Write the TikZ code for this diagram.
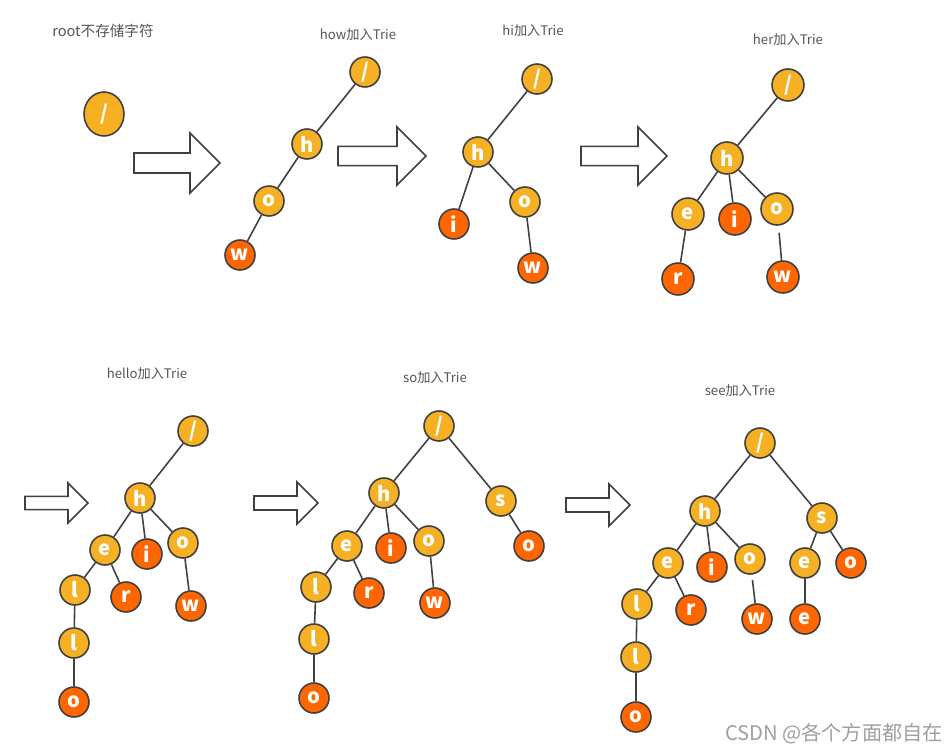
\documentclass[tikz,border=0pt]{standalone}
\usepackage{fontspec}
\setmainfont{Noto Sans CJK SC}
\usetikzlibrary{shapes.geometric}
\usepackage{xcolor}

\definecolor{trieyellow}{RGB}{245,176,36}
\definecolor{trieorange}{RGB}{255,102,0}
\definecolor{linegray}{RGB}{64,64,64}
\definecolor{titlegray}{RGB}{85,85,85}

\tikzset{
  trienode/.style={circle, draw=linegray, line width=0.9pt, fill=trieyellow, text=white,
    minimum size=0.6cm, inner sep=0pt, font=\fontsize{11.5}{11.5}\selectfont\bfseries},
  endnode/.style={trienode, fill=trieorange},
  rootnode/.style={ellipse, draw=linegray, line width=0.9pt, fill=trieyellow, text=white,
    minimum width=0.8cm, minimum height=0.88cm, inner sep=0pt, font=\fontsize{11.5}{11.5}\selectfont\bfseries},
  bignode/.style={minimum size=0.64cm},
  title/.style={text=titlegray, font=\fontsize{7.5}{8}\selectfont},
  watermark/.style={text=gray!75, font=\fontsize{11.5}{12}\selectfont},
  link/.style={draw=linegray, line width=0.9pt},
  arrowbox/.style={draw=linegray, line width=0.9pt, fill=white, line join=miter}
}

% block arrow: left x, middle y, length, half height of the head
\newcommand{\blockarrow}[4]{%
  \draw[arrowbox] (#1,#2-#4/3) -- (#1+#3-#4,#2-#4/3) -- (#1+#3-#4,#2-#4)
    -- (#1+#3,#2) -- (#1+#3-#4,#2+#4) -- (#1+#3-#4,#2+#4/3) -- (#1,#2+#4/3) -- cycle;}

\begin{document}
\begin{tikzpicture}[x=0.02cm, y=-0.02cm]
  \useasboundingbox (0,0) rectangle (951,755);

  % arrows between the steps
  \blockarrow{134}{163}{86}{30}
  \blockarrow{338}{156}{88}{29}
  \blockarrow{581}{156}{86}{29}
  \blockarrow{25}{503}{63}{20}
  \blockarrow{254}{503}{64}{21}
  \blockarrow{566}{505}{64}{21}

  % root only
  \node[title, font=\fontsize{8.3}{9}\selectfont] (t1) at (103,31) {root不存储字符};
  \node[rootnode] (a0) at (104,114) {/};

  % how
  \node[title] (t2) at (358,35) {how加入Trie};
  \node[trienode] (b0) at (365,72) {/};
  \node[trienode] (bh) at (307,144) {h};
  \node[trienode] (bo) at (269,201) {o};
  \node[endnode] (bw) at (240,255) {w};
  \draw[link] (b0) -- (bh);
  \draw[link] (bh) -- (bo);
  \draw[link] (bo) -- (bw);

  % hi
  \node[title] (t3) at (533,31) {hi加入Trie};
  \node[trienode] (c0) at (537,79) {/};
  \node[trienode] (ch) at (478,152) {h};
  \node[endnode] (ci) at (454,224) {i};
  \node[trienode] (co) at (525,202) {o};
  \node[endnode] (cw) at (533,268) {w};
  \draw[link] (c0) -- (ch);
  \draw[link] (ch) -- (ci);
  \draw[link] (ch) -- (co);
  \draw[link] (co) -- (cw);

  % her
  \node[title] (t4) at (788,40) {her加入Trie};
  \node[trienode, bignode] (d0) at (788,85) {/};
  \node[trienode, bignode] (dh) at (727,158) {h};
  \node[trienode, bignode] (de) at (688,214) {e};
  \node[endnode, bignode] (di) at (735,219) {i};
  \node[trienode, bignode] (do) at (777,209) {o};
  \node[endnode, bignode] (dr) at (678,279) {r};
  \node[endnode, bignode] (dw) at (783,277) {w};
  \draw[link] (d0) -- (dh);
  \draw[link] (dh) -- (de);
  \draw[link] (dh) -- (di);
  \draw[link] (dh) -- (do);
  \draw[link] (de) -- (dr);
  \draw[link, shorten <=4pt] (do) -- (dw);

  % hello
  \node[title] (t5) at (147,374) {hello加入Trie};
  \node[trienode] (e0) at (193,431) {/};
  \node[trienode] (eh) at (140,498) {h};
  \node[trienode] (ee) at (105,550) {e};
  \node[endnode] (ei) at (147,554) {i};
  \node[trienode] (eo) at (183,543) {o};
  \node[trienode] (el) at (75,590) {l};
  \node[endnode] (er) at (126,597) {r};
  \node[endnode] (ew) at (191,606) {w};
  \node[trienode] (ell) at (74,643) {l};
  \node[endnode] (elo) at (74,702) {o};
  \draw[link] (e0) -- (eh);
  \draw[link] (eh) -- (ee);
  \draw[link] (eh) -- (ei);
  \draw[link] (eh) -- (eo);
  \draw[link] (ee) -- (el);
  \draw[link] (ee) -- (er);
  \draw[link] (eo) -- (ew);
  \draw[link] (el) -- (ell);
  \draw[link] (ell) -- (elo);

  % so
  \node[title] (t6) at (435,378) {so加入Trie};
  \node[trienode] (f0) at (439,426) {/};
  \node[trienode] (fh) at (384,493) {h};
  \node[trienode] (fs) at (501,501) {s};
  \node[trienode] (fe) at (347,546) {e};
  \node[endnode] (fi) at (391,548) {i};
  \node[trienode] (fo) at (429,541) {o};
  \node[endnode] (fso) at (529,546) {o};
  \node[trienode] (fl) at (316,587) {l};
  \node[endnode] (fr) at (369,593) {r};
  \node[endnode] (fw) at (435,603) {w};
  \node[trienode] (fll) at (314,639) {l};
  \node[endnode] (flo) at (314,698) {o};
  \draw[link] (f0) -- (fh);
  \draw[link] (f0) -- (fs);
  \draw[link] (fh) -- (fe);
  \draw[link] (fh) -- (fi);
  \draw[link] (fh) -- (fo);
  \draw[link] (fs) -- (fso);
  \draw[link] (fe) -- (fl);
  \draw[link] (fe) -- (fr);
  \draw[link] (fo) -- (fw);
  \draw[link] (fl) -- (fll);
  \draw[link] (fll) -- (flo);

  % see
  \node[title] (t7) at (740,391) {see加入Trie};
  \node[trienode] (g0) at (760,443) {/};
  \node[trienode] (gh) at (705,511) {h};
  \node[trienode] (gs) at (822,518) {s};
  \node[trienode] (ge) at (668,563) {e};
  \node[endnode] (gi) at (712,567) {i};
  \node[trienode] (go) at (750,559) {o};
  \node[trienode] (gse) at (805,563) {e};
  \node[endnode] (gso) at (851,563) {o};
  \node[trienode] (gl) at (637,604) {l};
  \node[endnode] (gr) at (691,610) {r};
  \node[endnode] (gw) at (757,619) {w};
  \node[endnode] (gsee) at (805,619) {e};
  \node[trienode] (gll) at (636,657) {l};
  \node[endnode] (glo) at (636,717) {o};
  \draw[link] (g0) -- (gh);
  \draw[link] (g0) -- (gs);
  \draw[link] (gh) -- (ge);
  \draw[link] (gh) -- (gi);
  \draw[link] (gh) -- (go);
  \draw[link] (gs) -- (gse);
  \draw[link] (gs) -- (gso);
  \draw[link] (ge) -- (gl);
  \draw[link] (ge) -- (gr);
  \draw[link, shorten <=3pt] (go) -- (gw);
  \draw[link] (gse) -- (gsee);
  \draw[link] (gl) -- (gll);
  \draw[link] (gll) -- (glo);

  \node[watermark] (wm) at (834,734) {CSDN @各个方面都自在};
\end{tikzpicture}
\end{document}
